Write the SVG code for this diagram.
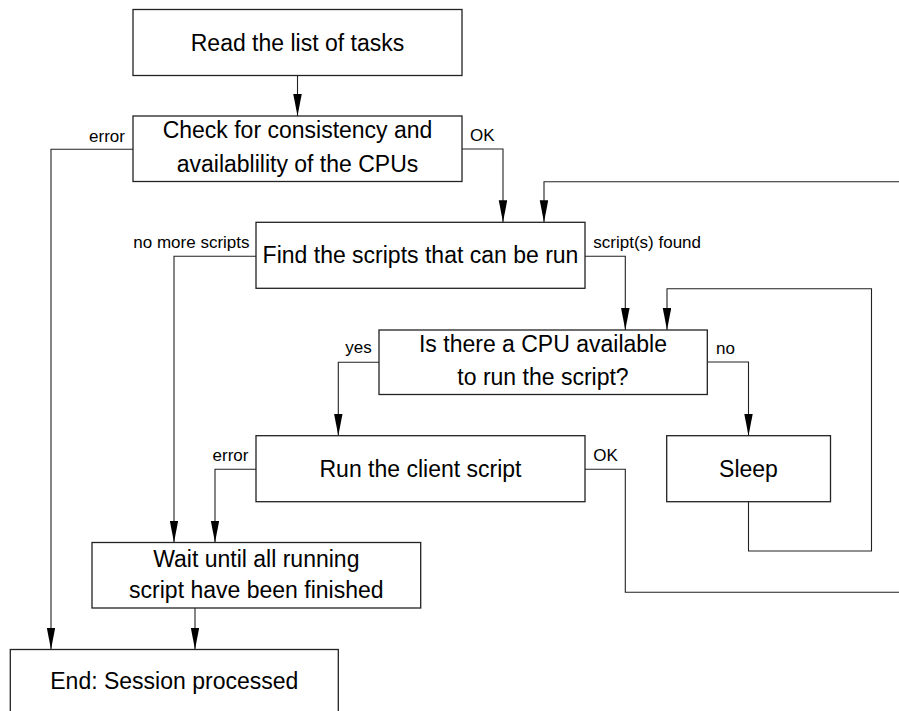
<svg xmlns="http://www.w3.org/2000/svg" width="899" height="711" viewBox="0 0 899 711">
<style>
.box{fill:#fff;stroke:#222;stroke-width:1.3}
.t{font-family:"Liberation Sans",Arial,sans-serif;font-size:23px;fill:#000;text-anchor:middle}
.l{font-family:"Liberation Sans",Arial,sans-serif;font-size:17px;fill:#000}
.c{fill:none;stroke:#222;stroke-width:1.1}
</style>
<defs>
<marker id="ah" markerUnits="userSpaceOnUse" markerWidth="22" markerHeight="9" refX="22" refY="4.25" orient="auto">
<path d="M0,0 L22,4.25 L0,8.5 z" fill="#000"/>
</marker>
</defs>
<rect width="899" height="711" fill="#fff"/>
<g id="connectors">
<path class="c" d="M297.5,75.5 V116" marker-end="url(#ah)"/>
<path class="c" d="M462,149 H503 V222.3" marker-end="url(#ah)"/>
<path class="c" d="M899,181.7 H544 V222.3" marker-end="url(#ah)"/>
<path class="c" d="M133,149.3 H51 V649.5" marker-end="url(#ah)"/>
<path class="c" d="M256,256.3 H174 V542.5" marker-end="url(#ah)"/>
<path class="c" d="M585,256.3 H625.3 V330" marker-end="url(#ah)"/>
<path class="c" d="M748.5,501.7 V551 H871.5 V288.7 H667 V330" marker-end="url(#ah)"/>
<path class="c" d="M707.3,362 H748.5 V435.7" marker-end="url(#ah)"/>
<path class="c" d="M379,362.3 H338.3 V435.7" marker-end="url(#ah)"/>
<path class="c" d="M585,469.3 H625.3 V592.3 H899"/>
<path class="c" d="M256,469.3 H215 V542.5" marker-end="url(#ah)"/>
<path class="c" d="M195,608 V649.5" marker-end="url(#ah)"/>
</g>
<g id="labels">
<text class="l" x="125" y="141.5" text-anchor="end">error</text>
<text class="l" x="470" y="140.5">OK</text>
<text class="l" x="249.5" y="248.3" text-anchor="end">no more scripts</text>
<text class="l" x="593.3" y="248.3">script(s) found</text>
<text class="l" x="371.7" y="353" text-anchor="end">yes</text>
<text class="l" x="716" y="354">no</text>
<text class="l" x="248.5" y="460.7" text-anchor="end">error</text>
<text class="l" x="593.3" y="460.7">OK</text>
</g>
<g id="read-tasks">
<rect class="box" x="133" y="9.5" width="329" height="66"/>
<text class="t" x="297.5" y="51">Read the list of tasks</text>
</g>
<g id="check-consistency">
<rect class="box" x="133" y="116" width="329" height="65.5"/>
<text class="t" x="297.5" y="138.3">Check for consistency and</text>
<text class="t" x="297.5" y="171.7">availablility of the CPUs</text>
</g>
<g id="find-scripts">
<rect class="box" x="256" y="222.3" width="329" height="66"/>
<text class="t" x="420.5" y="262.5">Find the scripts that can be run</text>
</g>
<g id="cpu-available">
<rect class="box" x="379" y="330" width="328.3" height="64.5"/>
<text class="t" x="543" y="351.7">Is there a CPU available</text>
<text class="t" x="543" y="384.5">to run the script?</text>
</g>
<g id="run-script">
<rect class="box" x="256" y="435.7" width="329" height="66"/>
<text class="t" x="420.5" y="477">Run the client script</text>
</g>
<g id="sleep">
<rect class="box" x="666.7" y="435.7" width="163.8" height="66"/>
<text class="t" x="748.5" y="477">Sleep</text>
</g>
<g id="wait-finished">
<rect class="box" x="92" y="542.5" width="328.7" height="65.5"/>
<text class="t" x="256.3" y="566.5">Wait until all running</text>
<text class="t" x="256.3" y="598.3">script have been finished</text>
</g>
<g id="end-session">
<rect class="box" x="10.3" y="649.5" width="328" height="70"/>
<text class="t" x="174.3" y="688.5">End: Session processed</text>
</g>
</svg>
